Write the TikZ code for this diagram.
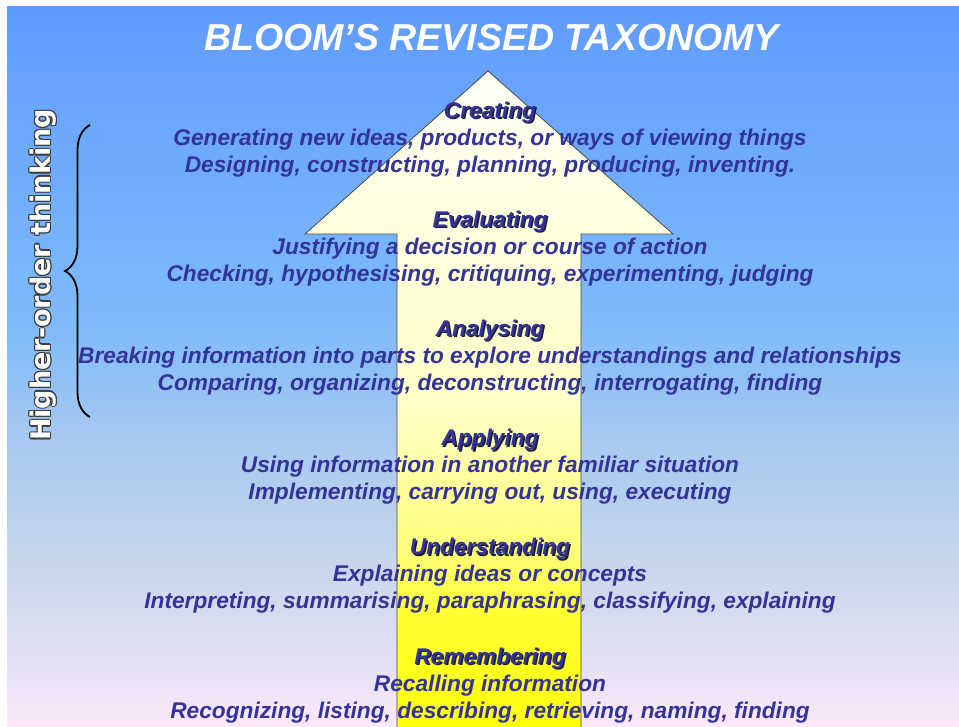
\documentclass[tikz,border=0pt]{standalone}
\usepackage{fontspec}
\setmainfont{Liberation Sans}
\newfontfamily\vfont{DejaVu Sans}
\usetikzlibrary{decorations.pathreplacing}
\definecolor{txtc}{RGB}{51,51,153}
\definecolor{shadowc}{RGB}{30,30,50}
\definecolor{outl}{RGB}{60,60,60}
\definecolor{arrowedge}{RGB}{70,70,70}
\definecolor{bgA}{RGB}{252,232,250}
\definecolor{bgB}{RGB}{230,225,245}
\definecolor{bgC}{RGB}{200,215,235}
\definecolor{bgD}{RGB}{165,200,240}
\definecolor{bgE}{RGB}{128,188,250}
\definecolor{bgF}{RGB}{95,155,255}
\definecolor{arA}{RGB}{255,255,10}
\definecolor{arB}{RGB}{255,255,50}
\definecolor{arC}{RGB}{255,255,120}
\definecolor{arD}{RGB}{255,255,200}
\definecolor{arE}{RGB}{255,255,245}
\pgfdeclareverticalshading{bgshade}{100bp}{color(0bp)=(bgA); color(25bp)=(bgA); color(29.1bp)=(bgB); color(36bp)=(bgC); color(45.3bp)=(bgD); color(52.3bp)=(bgE); color(75bp)=(bgF); color(100bp)=(bgF)}
\pgfdeclareverticalshading{arshade}{100bp}{color(0bp)=(arA); color(25bp)=(arA); color(33.6bp)=(arB); color(38.4bp)=(arC); color(49.9bp)=(arD); color(75bp)=(arE); color(100bp)=(arE)}
\tikzset{
  body/.style={text=txtc, font=\bfseries\itshape\fontsize{22.7}{26}\selectfont, inner sep=0pt, anchor=base},
  head/.style={body},
  headshadow/.style={body, text=shadowc},
  titletext/.style={text=white, font=\bfseries\itshape\fontsize{37.5}{42}\selectfont, inner sep=0pt, anchor=base},
  vtext/.style={font=\vfont\bfseries\fontsize{27}{30}\selectfont, inner sep=0pt, anchor=center, rotate=90},
  bracestyle/.style={draw=black, line width=1.8pt, decorate, decoration={brace, amplitude=25pt, aspect=0.5}},
}
\begin{document}
\begin{tikzpicture}[x=1pt,y=-1pt]
\useasboundingbox (0,0) rectangle (959,726);
\fill[white] (0,0) rectangle (959,726);
\shade[shading=bgshade] (7,6) rectangle (959,726);
% arrow
\shade[shading=arshade] (488,71) -- (673,234) -- (581,234) -- (581,727) -- (397,727) -- (397,234) -- (305,234) -- cycle;
\draw[arrowedge, line width=0.8pt] (397,727) -- (397,234) -- (305,234) -- (488,71) -- (673,234) -- (581,234) -- (581,727);
% title
\node[titletext] (title) at (491.5,50) {BLOOM’S REVISED TAXONOMY};
% vertical label with outline
\foreach \dx/\dy [count=\i] in {1.2/0,-1.2/0,0/1.2,0/-1.2,0.85/0.85,-0.85/0.85,0.85/-0.85,-0.85/-0.85}{
  \node[vtext, text=outl] (vto\i) at (43+\dx,275+\dy) {Higher-order thinking};
}
\node[vtext, text=white] (vt) at (43,275) {Higher-order thinking};
% brace
\coordinate (bb) at (90,417);
\coordinate (bt) at (90,125);
\draw[bracestyle] (bb) -- (bt);
% Creating
\node[headshadow] (h1s) at (491.5,119.5) {Creating};
\node[head] (h1) at (490,118) {Creating};
\node[body] (a1) at (490,145) {Generating new ideas, products, or ways of viewing things};
\node[body] (b1) at (490,172) {Designing, constructing, planning, producing, inventing.};
% Evaluating
\node[headshadow] (h2s) at (491.5,228.7) {Evaluating};
\node[head] (h2) at (490,227.2) {Evaluating};
\node[body] (a2) at (490,254.2) {Justifying a decision or course of action};
\node[body] (b2) at (490,281.2) {Checking, hypothesising, critiquing, experimenting, judging};
% Analysing
\node[headshadow] (h3s) at (491.5,337.9) {Analysing};
\node[head] (h3) at (490,336.4) {Analysing};
\node[body] (a3) at (490,363.4) {Breaking information into parts to explore understandings and relationships};
\node[body] (b3) at (490,390.4) {Comparing, organizing, deconstructing, interrogating, finding};
% Applying
\node[headshadow] (h4s) at (491.5,447.1) {Applying};
\node[head] (h4) at (490,445.6) {Applying};
\node[body] (a4) at (490,472.6) {Using information in another familiar situation};
\node[body] (b4) at (490,499.6) {Implementing, carrying out, using, executing};
% Understanding
\node[headshadow] (h5s) at (491.5,556.3) {Understanding};
\node[head] (h5) at (490,554.8) {Understanding};
\node[body] (a5) at (490,581.8) {Explaining ideas or concepts};
\node[body] (b5) at (490,608.8) {Interpreting, summarising, paraphrasing, classifying, explaining};
% Remembering
\node[headshadow] (h6s) at (491.5,665.5) {Remembering};
\node[head] (h6) at (490,664) {Remembering};
\node[body] (a6) at (490,691) {Recalling information};
\node[body] (b6) at (490,718) {Recognizing, listing, describing, retrieving, naming, finding};
\end{tikzpicture}
\end{document}
